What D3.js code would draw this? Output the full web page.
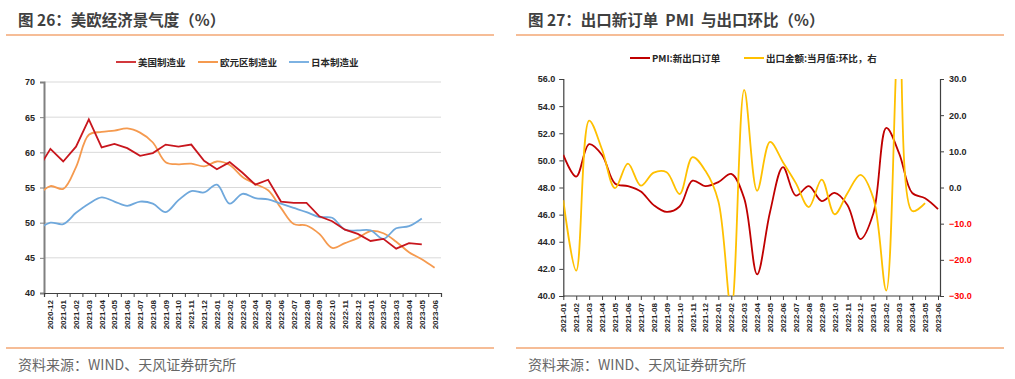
<!doctype html>
<html>
<head>
<meta charset="utf-8">
<script src="https://cdnjs.cloudflare.com/ajax/libs/d3/7.8.5/d3.min.js"></script>
<style>
  body { margin: 0; background: #fff; }
  svg { font-family: "Noto Sans CJK SC", "Noto Sans", sans-serif; }
  .ttl { white-space: pre; }
</style>
</head>
<body>
<svg id="chart" width="1015" height="379"></svg>
<script>
// ---- data: left chart (month index -1 = 2020-11, drawn clipped) ----
var leftMonths = ["2020-12","2021-01","2021-02","2021-03","2021-04","2021-05","2021-06","2021-07","2021-08","2021-09","2021-10","2021-11","2021-12",
  "2022-01","2022-02","2022-03","2022-04","2022-05","2022-06","2022-07","2022-08","2022-09","2022-10","2022-11","2022-12",
  "2023-01","2023-02","2023-03","2023-04","2023-05","2023-06"];
// values start at 2020-11
var usMfg   = [57.5,60.5,58.7,60.8,64.7,60.7,61.2,60.6,59.5,59.9,61.1,60.8,61.1,58.8,57.6,58.6,57.1,55.4,56.1,53.0,52.8,52.8,50.9,50.2,49.0,48.4,47.4,47.7,46.3,47.1,46.9];
var euMfg   = [53.8,55.2,54.8,57.9,62.5,62.9,63.1,63.4,62.8,61.4,58.6,58.3,58.4,58.0,58.7,58.2,56.5,55.5,54.6,52.1,49.8,49.6,48.4,46.4,47.1,47.8,48.8,48.5,47.3,45.8,44.8,43.6];
var jpMfg   = [49.0,50.0,49.8,51.4,52.7,53.6,53.0,52.4,53.0,52.7,51.5,53.2,54.5,54.3,55.4,52.7,54.1,53.5,53.3,52.7,52.1,51.5,50.8,50.7,49.0,48.9,48.9,47.7,49.2,49.5,50.6];
var leftNames = ["美国制造业","欧元区制造业","日本制造业"];
var leftTicks = [40,45,50,55,60,65,70];

// ---- data: right chart ----
var rightMonths = ["2021-01","2021-02","2021-03","2021-04","2021-05","2021-06","2021-07","2021-08","2021-09","2021-10","2021-11","2021-12",
  "2022-01","2022-02","2022-03","2022-04","2022-05","2022-06","2022-07","2022-08","2022-09","2022-10","2022-11","2022-12",
  "2023-01","2023-02","2023-03","2023-04","2023-05","2023-06"];
var pmiExport = [50.4,48.8,51.2,50.4,48.3,48.1,47.7,46.7,46.2,46.6,48.5,48.1,48.4,49.0,47.2,41.6,46.2,49.5,47.4,48.1,47.0,47.6,46.7,44.2,46.1,52.4,50.5,47.6,47.2,46.4];
var exportMom = [-3.5,-23.0,18.5,10.5,-0.2,6.6,0.5,4.1,4.2,-1.8,8.4,4.6,-3.8,-33.6,27.0,-0.9,12.6,7.0,1.2,-5.4,2.2,-7.4,-1.5,3.5,-3.0,-28.5,45.0,-6.5,-4.3];
var rightNames = ["PMI:新出口订单","出口金额:当月值:环比，右"];
var rightTicksL = [40,42,44,46,48,50,52,54,56];
var rightTicksR = [-30,-20,-10,0,10,20,30];

var svg = d3.select("#chart");
var ORANGE = "#ED7D31";

// headers, rules, source lines
function frame(x0, title) {
  svg.append("text").attr("class", "ttl").attr("x", x0 + 18).attr("y", 26)
    .attr("font-size", 15.5).attr("font-weight", "bold").attr("fill", "#404040").text(title);
  svg.append("line").attr("x1", x0 + 6).attr("x2", x0 + 494).attr("y1", 35).attr("y2", 35)
    .attr("stroke", ORANGE).attr("stroke-width", 1.2);
  svg.append("line").attr("x1", x0 + 6).attr("x2", x0 + 494).attr("y1", 348).attr("y2", 348)
    .attr("stroke", ORANGE).attr("stroke-width", 1.2);
  svg.append("text").attr("x", x0 + 18).attr("y", 370)
    .attr("font-size", 14).attr("fill", "#666666").text("资料来源：WIND、天风证券研究所");
}
frame(0, "图 26：美欧经济景气度（%）");
frame(510, "图 27：出口新订单  PMI  与出口环比（%）");

function legendItem(x, y, color, label) {
  svg.append("line").attr("x1", x).attr("x2", x + 20).attr("y1", y).attr("y2", y)
    .attr("stroke", color).attr("stroke-width", 2);
  svg.append("text").attr("x", x + 22).attr("y", y + 3.5)
    .attr("font-size", 9.5).attr("font-weight", "bold").attr("fill", "#262626").text(label);
}

// ================= left chart =================
var L = {left: 44, right: 441, top: 82, bottom: 293};
var xL = d3.scaleLinear().domain([-0.5, leftMonths.length - 0.5]).range([L.left, L.right]);
var yL = d3.scaleLinear().domain([40, 70]).range([L.bottom, L.top]);

svg.append("clipPath").attr("id", "clipL").append("rect")
  .attr("x", L.left).attr("y", L.top - 5).attr("width", L.right - L.left).attr("height", L.bottom - L.top + 5);

svg.append("g").selectAll("line").data(leftTicks.slice(1)).enter().append("line")
  .attr("x1", L.left).attr("x2", L.right).attr("y1", yL).attr("y2", yL)
  .attr("stroke", "#D9D9D9").attr("stroke-width", 1);

var gyL = svg.append("g").attr("transform", "translate(" + L.left + ",0)")
  .call(d3.axisLeft(yL).tickValues(leftTicks).tickSize(4).tickPadding(5).tickFormat(d3.format("d")));
gyL.select(".domain").attr("stroke", "#808080").attr("stroke-width", 2);
gyL.selectAll(".tick line").attr("stroke", "#808080");
gyL.selectAll("text").attr("font-size", 9).attr("font-weight", "bold").attr("fill", "#262626")
  .attr("font-family", "Liberation Sans, Arial, sans-serif");

var bounds = d3.range(leftMonths.length + 1).map(function(i) { return i - 0.5; });
var gxL = svg.append("g").attr("transform", "translate(0," + L.bottom + ")")
  .call(d3.axisBottom(xL).tickValues(bounds).tickSize(4).tickFormat(""));
gxL.select(".domain").attr("stroke", "#404040").attr("stroke-width", 1.2);
gxL.selectAll(".tick line").attr("stroke", "#404040");
svg.append("g").selectAll("text").data(leftMonths).enter().append("text")
  .attr("transform", function(d, i) { return "translate(" + (xL(i) + 3) + "," + (L.bottom + 7) + ") rotate(-90)"; })
  .attr("text-anchor", "end").attr("font-size", 8).attr("font-weight", "bold").attr("fill", "#262626")
  .attr("font-family", "Liberation Sans, Arial, sans-serif").text(function(d) { return d; });

var lineL = function(curve) {
  return d3.line().x(function(d, i) { return xL(i - 1); }).y(function(d) { return yL(d); }).curve(curve);
};
var gL = svg.append("g").attr("clip-path", "url(#clipL)");
gL.append("path").datum(euMfg).attr("d", lineL(d3.curveCatmullRom.alpha(0.5)))
  .attr("fill", "none").attr("stroke", "#F59A4F").attr("stroke-width", 1.8);
gL.append("path").datum(jpMfg).attr("d", lineL(d3.curveCatmullRom.alpha(0.5)))
  .attr("fill", "none").attr("stroke", "#6FA8DC").attr("stroke-width", 1.8);
gL.append("path").datum(usMfg).attr("d", lineL(d3.curveLinear))
  .attr("fill", "none").attr("stroke", "#C8161D").attr("stroke-width", 1.8);

legendItem(116, 62, "#D2383C", leftNames[0]);
legendItem(198, 62, "#F59A4F", leftNames[1]);
legendItem(289, 62, "#7DB2E2", leftNames[2]);

// ================= right chart =================
var R = {left: 563.3, right: 940, top: 79, bottom: 296};
var xR = d3.scaleLinear().domain([0, rightMonths.length - 1]).range([R.left, 938]);
var yRL = d3.scaleLinear().domain([40, 56]).range([R.bottom, R.top]);
var yRR = d3.scaleLinear().domain([-30, 30]).range([R.bottom, R.top]);

svg.append("clipPath").attr("id", "clipR").append("rect")
  .attr("x", R.left).attr("y", R.top).attr("width", R.right - R.left).attr("height", R.bottom - R.top);

var gyRL = svg.append("g").attr("transform", "translate(" + R.left + ",0)")
  .call(d3.axisLeft(yRL).tickValues(rightTicksL).tickSize(4).tickPadding(4).tickFormat(d3.format(".1f")));
gyRL.select(".domain").attr("stroke", "#404040").attr("stroke-width", 1.2);
gyRL.selectAll(".tick line").attr("stroke", "#404040");
gyRL.selectAll("text").attr("font-size", 9).attr("font-weight", "bold").attr("fill", "#262626")
  .attr("font-family", "Liberation Sans, Arial, sans-serif");

var gyRR = svg.append("g").attr("transform", "translate(" + R.right + ",0)")
  .call(d3.axisRight(yRR).tickValues(rightTicksR).tickSize(4).tickPadding(5).tickFormat(d3.format(".1f")));
gyRR.select(".domain").attr("stroke", "#404040").attr("stroke-width", 1.2);
gyRR.selectAll(".tick line").attr("stroke", "#404040");
gyRR.selectAll("text").attr("font-size", 9).attr("font-weight", "bold")
  .attr("fill", function(d) { return d < 0 ? "#FF0000" : "#262626"; })
  .attr("font-family", "Liberation Sans, Arial, sans-serif");

var gxR = svg.append("g").attr("transform", "translate(0," + R.bottom + ")")
  .call(d3.axisBottom(xR).tickValues(d3.range(rightMonths.length)).tickSize(4).tickFormat(""));
gxR.select(".domain").attr("stroke", "#404040").attr("stroke-width", 1.2)
  .attr("d", "M" + R.left + ",0H" + R.right);
gxR.selectAll(".tick line").attr("stroke", "#404040");
svg.append("g").selectAll("text").data(rightMonths).enter().append("text")
  .attr("transform", function(d, i) { return "translate(" + (xR(i) + 3) + "," + (R.bottom + 7) + ") rotate(-90)"; })
  .attr("text-anchor", "end").attr("font-size", 8).attr("font-weight", "bold").attr("fill", "#262626")
  .attr("font-family", "Liberation Sans, Arial, sans-serif").text(function(d) { return d; });

var gR = svg.append("g").attr("clip-path", "url(#clipR)");
gR.append("path").datum(pmiExport)
  .attr("d", d3.line().x(function(d, i) { return xR(i); }).y(function(d) { return yRL(d); }).curve(d3.curveCatmullRom.alpha(0.5)))
  .attr("fill", "none").attr("stroke", "#C00000").attr("stroke-width", 1.8);
gR.append("path").datum(exportMom)
  .attr("d", d3.line().x(function(d, i) { return xR(i); }).y(function(d) { return yRR(d); }).curve(d3.curveCatmullRom.alpha(0.5)))
  .attr("fill", "none").attr("stroke", "#FFC000").attr("stroke-width", 1.8);

legendItem(630, 58, "#C00000", rightNames[0]);
legendItem(744, 58, "#FFC000", rightNames[1]);
</script>
</body>
</html>
